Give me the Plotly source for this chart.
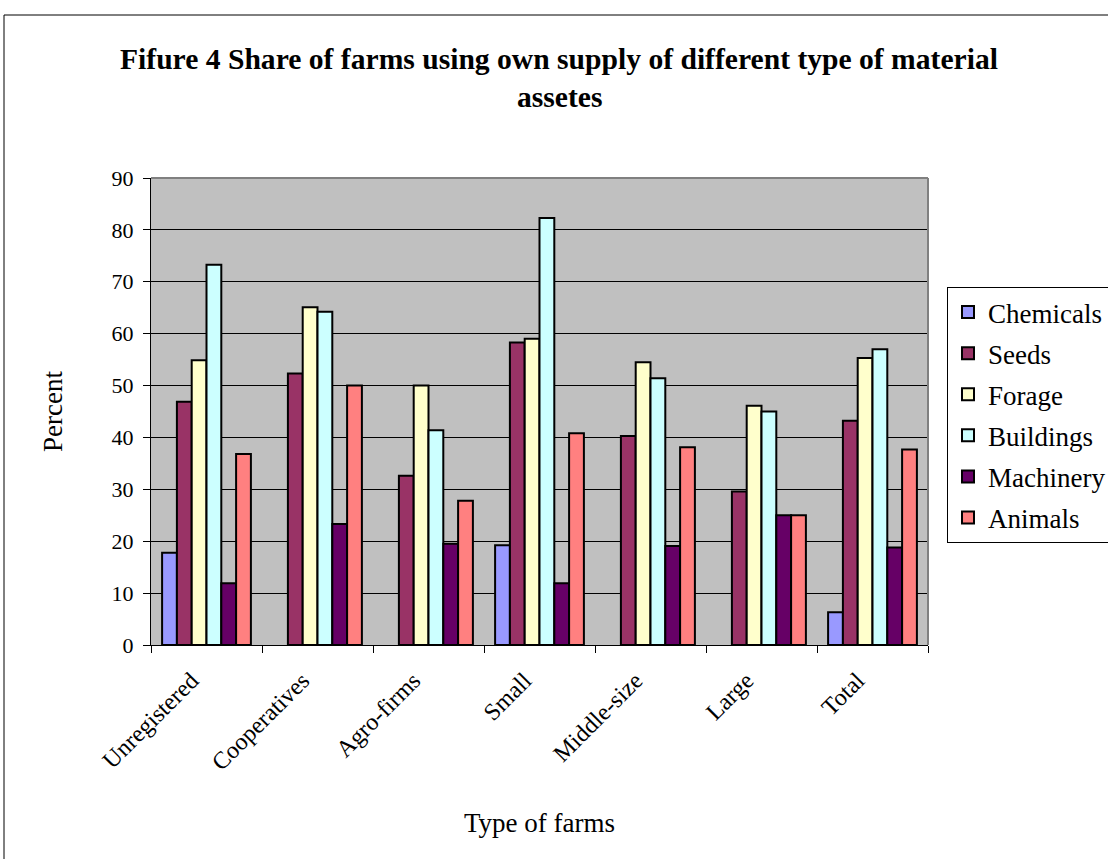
import plotly.graph_objects as go

categories = ["Unregistered", "Cooperatives", "Agro-firms", "Small", "Middle-size", "Large", "Total"]
chemicals = [17.8, None, None, 19.2, None, None, 6.3]
seeds = [46.9, 52.3, 32.6, 58.3, 40.3, 29.6, 43.2]
forage = [54.9, 65.1, 50.0, 59.0, 54.5, 46.1, 55.3]
buildings = [73.3, 64.2, 41.4, 82.3, 51.4, 45.0, 57.0]
machinery = [11.9, 23.3, 19.5, 11.9, 19.1, 25.0, 18.8]
animals = [36.8, 50.0, 27.8, 40.8, 38.1, 25.0, 37.7]

series = [
    ("Chemicals", chemicals, "#9999FF"),
    ("Seeds", seeds, "#993366"),
    ("Forage", forage, "#FFFFCC"),
    ("Buildings", buildings, "#CCFFFF"),
    ("Machinery", machinery, "#660066"),
    ("Animals", animals, "#FF8080"),
]

FONT = "Liberation Serif, Times New Roman, serif"

fig = go.Figure()
for i, (name, vals, color) in enumerate(series):
    fig.add_trace(go.Bar(
        x=categories, y=vals, name=name, legendgroup=name,
        marker=dict(color=color, line=dict(color="black", width=2)),
    ))

W, H = 1108, 859
L, R, T, B = 151, 928, 178, 645
pw, ph = R - L, B - T

def px_x(px):
    return (px - L) / pw

def px_y(py):
    return (B - py) / ph

fig.update_layout(
    width=W, height=H,
    margin=dict(l=L, r=W - R, t=T, b=H - B, autoexpand=False),
    paper_bgcolor="white",
    plot_bgcolor="#C0C0C0",
    barmode="group",
    bargap=0.2,
    bargroupgap=0,
    font=dict(family=FONT, color="black", size=22),
    showlegend=True,
    legend=dict(
        x=px_x(947), y=px_y(287), xanchor="left", yanchor="top",
        bordercolor="black", borderwidth=1, bgcolor="white",
        font=dict(family=FONT, size=27, color="black"),
        traceorder="grouped", tracegroupgap=3,
    ),
    xaxis=dict(
        showline=True, linecolor="black", linewidth=1,
        ticks="outside", tickson="boundaries", ticklen=7, tickcolor="black",
        tickangle=-45, tickfont=dict(family=FONT, size=24),
        ticklabelshift=-15, ticklabelstandoff=11,
        showgrid=False,
    ),
    yaxis=dict(
        range=[0, 90], dtick=10,
        showline=True, linecolor="black", linewidth=1,
        ticks="outside", ticklen=7, tickcolor="black",
        tickfont=dict(family=FONT, size=22), ticklabelstandoff=5,
        showgrid=True, gridcolor="black", gridwidth=1,
        zeroline=False,
    ),
    annotations=[
        dict(text="<b>Fifure 4 Share of farms using own supply of different type of material</b>",
             xref="paper", yref="paper", x=px_x(559), y=px_y(59), xanchor="center", yanchor="middle",
             showarrow=False, font=dict(family=FONT, size=29.6)),
        dict(text="<b>assetes</b>",
             xref="paper", yref="paper", x=px_x(559), y=px_y(97), xanchor="center", yanchor="middle",
             showarrow=False, font=dict(family=FONT, size=29.6)),
        dict(text="Type of farms",
             xref="paper", yref="paper", x=px_x(539), y=px_y(823), xanchor="center", yanchor="middle",
             showarrow=False, font=dict(family=FONT, size=27)),
        dict(text="Percent", textangle=-90,
             xref="paper", yref="paper", x=px_x(53), y=px_y(412), xanchor="center", yanchor="middle",
             showarrow=False, font=dict(family=FONT, size=27)),
    ],
    shapes=[
        dict(type="rect", xref="paper", yref="paper",
             x0=px_x(4), y0=px_y(900), x1=px_x(1150), y1=px_y(15),
             line=dict(color="black", width=1), fillcolor="rgba(0,0,0,0)", layer="below"),
        dict(type="line", xref="paper", yref="paper", x0=0, y0=1, x1=1, y1=1,
             line=dict(color="#808080", width=2)),
        dict(type="line", xref="paper", yref="paper", x0=1, y0=0, x1=1, y1=1,
             line=dict(color="#808080", width=2)),
    ],
)

fig.write_html("out.html")
